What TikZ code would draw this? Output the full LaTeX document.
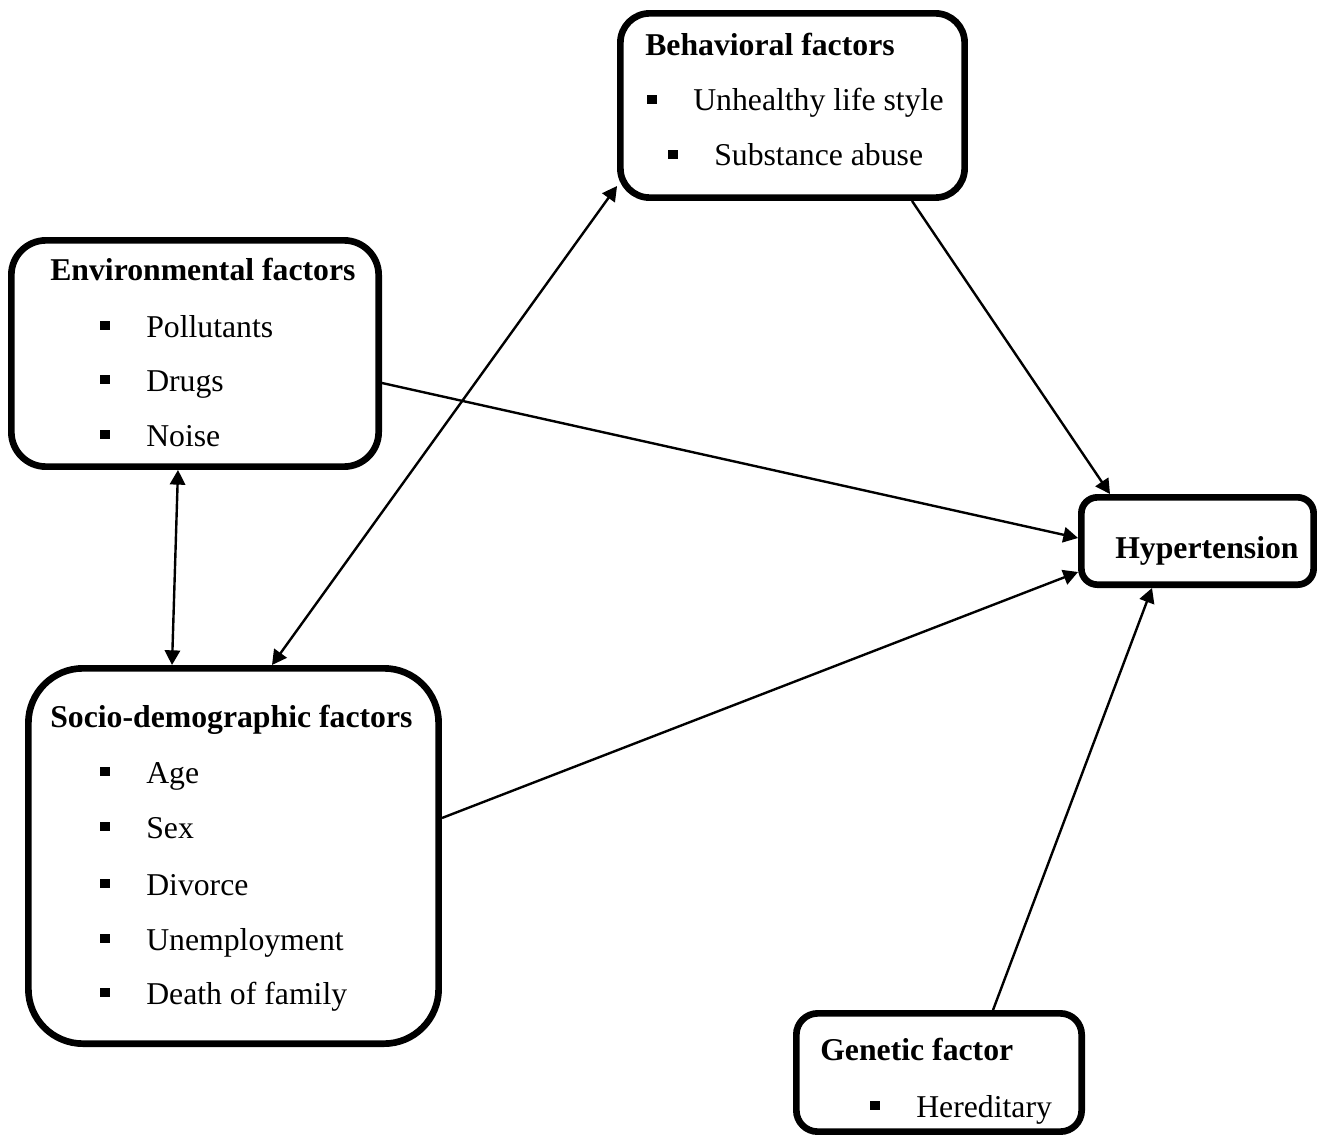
\documentclass[tikz,border=0pt]{standalone}
\usepackage{fontspec}
\setmainfont{Liberation Serif}
\usetikzlibrary{arrows.meta, positioning}

% square bullet with the gap to the item text
\newcommand{\sqbullet}{\makebox[34.5pt][l]{\raisebox{5pt}{\rule{7.3pt}{7.3pt}}}}

\begin{document}
\begin{tikzpicture}[
    x=0.75pt, y=-0.75pt,
    every node/.style={font=\fontsize{23.8}{28}\selectfont},
    factorbox/.style={rectangle, draw=black, line width=5pt, inner sep=0pt},
    heading/.style={anchor=base west, inner sep=0pt, font=\fontsize{23.8}{28}\selectfont\bfseries},
    item/.style={anchor=base west, inner sep=0pt},
    arrow/.style={-{Triangle[length=11pt, width=11.5pt]}, line width=1.8pt},
    twoway/.style={{Triangle[length=11pt, width=11.5pt]}-{Triangle[length=11pt, width=11.5pt]}, line width=1.8pt}
]
\useasboundingbox (0,0) rectangle (1319,1134);

% Factor boxes
\node[factorbox, rounded corners=22pt, minimum width=258.2pt, minimum height=138.2pt] (behav) at (792.5,105.5) {};
\node[factorbox, rounded corners=26pt, minimum width=275.5pt, minimum height=169.7pt] (env) at (195,353.5) {};
\node[factorbox, rounded corners=41pt, minimum width=307.7pt, minimum height=281.5pt] (socio) at (233.5,856) {};
\node[factorbox, rounded corners=12pt, minimum width=174.2pt, minimum height=65.5pt] (hyp) at (1197.5,541) {};
\node[factorbox, rounded corners=16pt, minimum width=214pt, minimum height=88.7pt] (gene) at (939,1072.5) {};

% Headings
\node[heading] (behavtitle) at (645,56) {Behavioral factors};
\node[heading] (envtitle) at (50,280) {Environmental factors};
\node[heading] (sociotitle) at (50,727) {Socio-demographic factors};
\node[heading] (hyptitle) at (1115,558) {Hypertension};
\node[heading] (genetitle) at (820,1060) {Genetic factor};

% Items
\node[item] (behav-a) at (647,111) {\sqbullet Unhealthy life style};
\node[item] (behav-b) at (668,166) {\sqbullet Substance abuse};
\foreach \yy/\txt in {337/Pollutants, 391/Drugs, 446/Noise}
    \node[item] (env-\yy) at (100,\yy) {\sqbullet\txt};
\foreach \yy/\txt in {783/Age, 838/Sex, 895/Divorce, 950/Unemployment, 1004/Death of family}
    \node[item] (socio-\yy) at (100,\yy) {\sqbullet\txt};
\node[item] (gene-a) at (870,1117) {\sqbullet Hereditary};

% Links
\draw[arrow] (behav.south -| 912,0) -- (hyp.north -| 1110,0);
\draw[arrow] (env.east |- 0,383) -- (hyp.west |- 0,538);
\draw[arrow] (socio.east |- 0,818) -- (hyp.west |- 0,572);
\draw[arrow] (gene.north -| 993,0) -- (hyp.south -| 1152,0);
\draw[twoway] (env.south -| 178,0) -- (socio.north -| 172,0);
\draw[twoway] (behav.west |- 0,186) -- (socio.north -| 272,0);

\end{tikzpicture}
\end{document}
